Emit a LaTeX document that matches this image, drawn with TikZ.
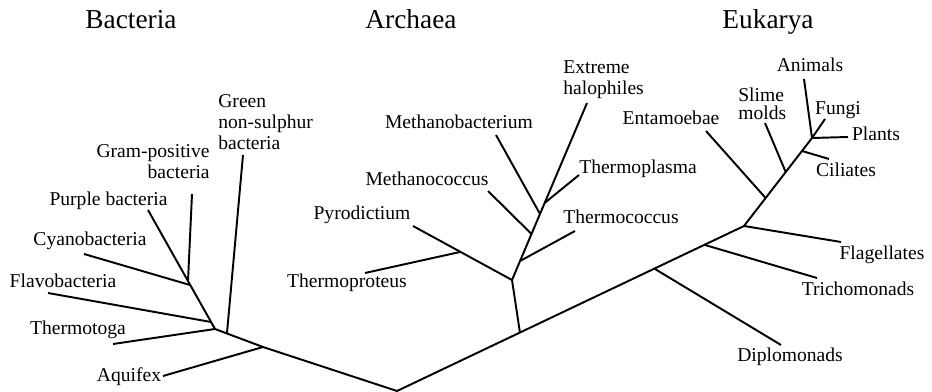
\documentclass[tikz,border=0pt]{standalone}
\usepackage{fontspec}
\setmainfont{Liberation Serif}
\usetikzlibrary{positioning}

\begin{document}
\begin{tikzpicture}[
  x=0.567pt, y=-0.567pt,
  branch/.style={draw=black, line width=1.1pt},
  taxon/.style={font=\fontsize{11.1}{12}\selectfont, inner sep=0pt, text height=0.7em, text depth=0.25em},
  taxonml/.style={font=\fontsize{11.1}{12}\selectfont, inner sep=0pt},
  domainlbl/.style={font=\fontsize{15.5}{18}\selectfont, inner sep=0pt, anchor=base}
]
  \useasboundingbox (0,0) rectangle (932,392);

  \node[domainlbl] (bacteria) at (131,29) {Bacteria};
  \node[domainlbl] (archaea) at (411,29) {Archaea};
  \node[domainlbl] (eukarya) at (768,29) {Eukarya};

  \coordinate (root) at (397,391);
  \coordinate (bA) at (263,347);
  \coordinate (bG) at (227,333);
  \coordinate (bT) at (215,329);
  \coordinate (bF) at (211,322);
  \coordinate (bC) at (190,285);
  \coordinate (bP) at (188,281);
  \coordinate (tAquifex) at (163,376);
  \coordinate (tThermotoga) at (113,344);
  \coordinate (tFlavo) at (48,293);
  \coordinate (tCyano) at (84,254);
  \coordinate (tPurple) at (148,210);
  \coordinate (tGram) at (192,194);
  \coordinate (tGreen) at (243,155);

  \coordinate (aS) at (520,333);
  \coordinate (aR) at (512,280);
  \coordinate (aP) at (460,252);
  \coordinate (aTc) at (520.1,261);
  \coordinate (aMc) at (531.5,234);
  \coordinate (aMb) at (540,214);
  \coordinate (aTp) at (544.6,203);
  \coordinate (tPyro) at (413,226);
  \coordinate (tProteus) at (365,273);
  \coordinate (tTcoccus) at (575,231);
  \coordinate (tMcoccus) at (488,191);
  \coordinate (tMbact) at (496,135);
  \coordinate (tTplasma) at (579,175);
  \coordinate (tHalo) at (587,103);

  \coordinate (eD) at (655,269);
  \coordinate (eT) at (705,245);
  \coordinate (eF) at (744,226);
  \coordinate (eE) at (765.6,198);
  \coordinate (eS) at (785.7,172);
  \coordinate (eC) at (802,151);
  \coordinate (eA) at (812,138);
  \coordinate (tDiplo) at (781,345);
  \coordinate (tTricho) at (817,278);
  \coordinate (tFlag) at (841,242);
  \coordinate (tEnt) at (706,131);
  \coordinate (tSlime) at (765,123);
  \coordinate (tCil) at (829,159);
  \coordinate (tAnimals) at (804,79);
  \coordinate (tFungi) at (825,119);
  \coordinate (tPlants) at (848,137);

  \draw[branch] (tPurple) -- (bT) -- (bA) -- (root) -- (eF);
  \draw[branch] (tAquifex) -- (bA);
  \draw[branch] (tGreen) -- (bG);
  \draw[branch] (tThermotoga) -- (bT);
  \draw[branch] (tFlavo) -- (bF);
  \draw[branch] (tCyano) -- (bC);
  \draw[branch] (tGram) -- (bP);

  \draw[branch] (aS) -- (aR) -- (tHalo);
  \draw[branch] (aR) -- (tPyro);
  \draw[branch] (aP) -- (tProteus);
  \draw[branch] (aTc) -- (tTcoccus);
  \draw[branch] (aMc) -- (tMcoccus);
  \draw[branch] (aMb) -- (tMbact);
  \draw[branch] (aTp) -- (tTplasma);

  \draw[branch] (eF) -- (eA);
  \draw[branch] (eD) -- (tDiplo);
  \draw[branch] (eT) -- (tTricho);
  \draw[branch] (eF) -- (tFlag);
  \draw[branch] (eE) -- (tEnt);
  \draw[branch] (eS) -- (tSlime);
  \draw[branch] (eC) -- (tCil);
  \draw[branch] (eA) -- (tAnimals);
  \draw[branch] (eA) -- (tFungi);
  \draw[branch] (eA) -- (tPlants);

  \node[taxon] (aquifex) at (129,378) {Aquifex};
  \node[taxon] (thermotoga) at (78,331) {Thermotoga};
  \node[taxon] (flavo) at (63,284) {Flavobacteria};
  \node[taxon] (cyano) at (90,242) {Cyanobacteria};
  \node[taxon] (purple) at (108.5,202) {Purple bacteria};
  \node[taxonml, align=right, anchor=east] (gram) at (210,162) {Gram-positive\\bacteria};
  \node[taxonml, align=left, anchor=west] (green) at (218,122) {Green\\non-sulphur\\bacteria};

  \node[taxon] (proteus) at (347,284) {Thermoproteus};
  \node[taxon] (pyro) at (362,216) {Pyrodictium};
  \node[taxon] (mcoccus) at (427,182) {Methanococcus};
  \node[taxon] (mbact) at (459,125) {Methanobacterium};
  \node[taxonml, align=left, anchor=west] (halo) at (563,80) {Extreme\\halophiles};
  \node[taxon] (tplasma) at (638,170) {Thermoplasma};
  \node[taxon] (tcoccus) at (621,220) {Thermococcus};

  \node[taxon] (ent) at (671,121) {Entamoebae};
  \node[taxonml, align=left, anchor=west, font=\fontsize{11.1}{10.2}\selectfont] (slime) at (738,104) {Slime\\molds};
  \node[taxon] (animals) at (810,68) {Animals};
  \node[taxon] (fungi) at (838,111) {Fungi};
  \node[taxon] (plants) at (876,137) {Plants};
  \node[taxon] (cil) at (846,173) {Ciliates};
  \node[taxon] (flag) at (882,256) {Flagellates};
  \node[taxon] (tricho) at (858,292) {Trichomonads};
  \node[taxon] (diplo) at (790,358) {Diplomonads};
\end{tikzpicture}
\end{document}
